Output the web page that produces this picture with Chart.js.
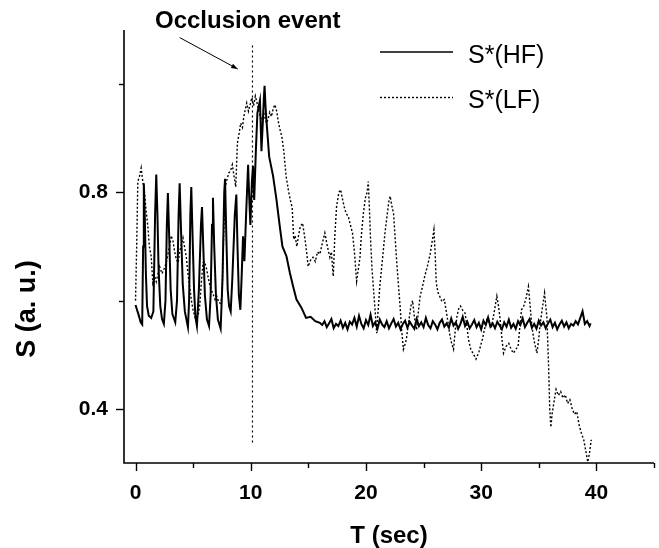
<!DOCTYPE html>
<html>
<head>
<meta charset="utf-8">
<script src="https://cdn.jsdelivr.net/npm/chart.js@4"></script>
<style>
  html, body { margin: 0; padding: 0; background: #fff; }
  #wrap { width: 659px; height: 548px; }
</style>
</head>
<body>
<div id="wrap"><canvas id="chart" width="659" height="548"></canvas></div>
<script>
/* ---- data ---- */
const hfT = [
  0.00, 0.10, 0.25, 0.45, 0.58, 0.66, 0.72, 0.80, 0.90, 1.00, 1.15, 1.36, 1.55, 1.70, 1.80, 1.90,
  2.00, 2.15, 2.30, 2.46, 2.60, 2.72, 2.81, 2.92, 3.05, 3.20, 3.45, 3.60, 3.74, 3.83, 3.95, 4.10,
  4.28, 4.55, 4.65, 4.76, 4.84, 4.95, 5.08, 5.20, 5.33, 5.50, 5.68, 5.77, 5.88, 6.02, 6.20, 6.38,
  6.52, 6.64, 6.72, 6.83, 6.98, 7.15, 7.39, 7.55, 7.70, 7.77, 7.88, 8.00, 8.12, 8.26, 8.40, 8.62,
  8.75, 8.85, 8.97, 9.10, 9.22, 9.33, 9.45, 9.60, 9.77, 9.87, 9.97, 10.10, 10.20, 10.30, 10.45, 10.58,
  10.80, 10.93, 11.05, 11.13, 11.20, 11.28, 11.36, 11.60, 11.94, 12.23, 12.52, 12.75, 13.10, 13.40, 13.68, 13.97,
  14.40, 14.80, 15.20, 15.60, 16.00,
  16.2, 16.4, 16.6, 16.8, 17.0, 17.2, 17.4, 17.6,
  17.8, 18.0, 18.2, 18.4, 18.6, 18.8, 19.0, 19.2,
  19.4, 19.6, 19.8, 20.0, 20.2, 20.4, 20.6, 20.8,
  21.0, 21.2, 21.4, 21.6, 21.8, 22.0, 22.2, 22.4,
  22.6, 22.8, 23.0, 23.2, 23.4, 23.6, 23.8, 24.0,
  24.2, 24.4, 24.6, 24.8, 25.0, 25.2, 25.4, 25.6,
  25.8, 26.0, 26.2, 26.4, 26.6, 26.8, 27.0, 27.2,
  27.4, 27.6, 27.8, 28.0, 28.2, 28.4, 28.6, 28.8,
  29.0, 29.2, 29.4, 29.6, 29.8, 30.0, 30.2, 30.4,
  30.6, 30.8, 31.0, 31.2, 31.4, 31.6, 31.8, 32.0,
  32.2, 32.4, 32.6, 32.8, 33.0, 33.2, 33.4, 33.6,
  33.8, 34.0, 34.2, 34.4, 34.6, 34.8, 35.0, 35.2,
  35.4, 35.6, 35.8, 36.0, 36.2, 36.4, 36.6, 36.8,
  37.0, 37.2, 37.4, 37.6, 37.8, 38.0, 38.2, 38.4,
  38.6, 38.8, 39.0, 39.2, 39.4, 39.5
];
const hfS = [
  0.592, 0.585, 0.575, 0.560, 0.556, 0.700, 0.817, 0.760, 0.650, 0.590, 0.572, 0.568, 0.580, 0.760, 0.833, 0.760,
  0.660, 0.590, 0.566, 0.557, 0.600, 0.740, 0.799, 0.720, 0.620, 0.575, 0.560, 0.600, 0.760, 0.817, 0.730, 0.630,
  0.580, 0.551, 0.600, 0.760, 0.810, 0.720, 0.620, 0.570, 0.553, 0.620, 0.740, 0.773, 0.700, 0.610, 0.565, 0.553,
  0.610, 0.740, 0.790, 0.700, 0.610, 0.565, 0.548, 0.640, 0.800, 0.825, 0.720, 0.620, 0.590, 0.580, 0.640, 0.760,
  0.796, 0.700, 0.610, 0.583, 0.650, 0.719, 0.673, 0.760, 0.851, 0.790, 0.740, 0.820, 0.849, 0.786, 0.880, 0.947,
  0.970, 0.876, 0.930, 0.971, 0.997, 0.960, 0.934, 0.866, 0.830, 0.787, 0.737, 0.700, 0.682, 0.651, 0.626, 0.602,
  0.587, 0.568, 0.570, 0.562, 0.559,
  0.555, 0.562, 0.551, 0.558, 0.566, 0.549, 0.557, 0.553,
  0.563, 0.550, 0.559, 0.547, 0.561, 0.556, 0.568, 0.552,
  0.572, 0.557, 0.549, 0.564, 0.555, 0.574, 0.553, 0.560,
  0.548, 0.565, 0.556, 0.551, 0.562, 0.549, 0.558, 0.566,
  0.552, 0.559, 0.547, 0.557, 0.563, 0.550, 0.561, 0.554,
  0.548, 0.566, 0.553, 0.560, 0.551, 0.568, 0.555, 0.549,
  0.562, 0.556, 0.547, 0.559, 0.565, 0.552, 0.558, 0.550,
  0.567, 0.554, 0.560, 0.548, 0.557, 0.570, 0.553, 0.561,
  0.549, 0.556, 0.564, 0.551, 0.559, 0.547, 0.563, 0.555,
  0.569, 0.552, 0.558, 0.549, 0.561, 0.554, 0.547, 0.560,
  0.552, 0.565, 0.550, 0.557, 0.548, 0.562, 0.555, 0.567,
  0.551, 0.559, 0.566, 0.550, 0.557, 0.548, 0.563, 0.554,
  0.560, 0.549, 0.558, 0.565, 0.551, 0.559, 0.547, 0.556,
  0.563, 0.552, 0.560, 0.549, 0.557, 0.554, 0.562, 0.556,
  0.568, 0.580, 0.557, 0.562, 0.553, 0.558
];

const lfT = [
  0.00, 0.10, 0.20, 0.35, 0.49, 0.60, 0.78, 0.90, 1.07, 1.20, 1.36, 1.50, 1.65, 1.80, 2.00, 2.09,
  2.30, 2.50, 2.67, 2.85, 2.96, 3.10, 3.25, 3.40, 3.54, 3.70, 3.83, 4.00, 4.12, 4.25, 4.41, 4.55,
  4.70, 4.85, 4.99, 5.15, 5.28, 5.45, 5.57, 5.70, 5.86, 6.00, 6.15, 6.40, 6.55, 6.70, 6.90, 7.05,
  7.20, 7.35, 7.50, 7.65, 7.80, 7.95, 8.10, 8.25, 8.40, 8.55, 8.70, 8.84, 9.00, 9.13, 9.28, 9.40,
  9.55, 9.65, 9.80, 9.95, 10.10, 10.25, 10.40, 10.55, 10.70, 10.85, 11.00, 11.15, 11.36, 11.50, 11.65, 11.80,
  11.95, 12.10, 12.25, 12.40, 12.55, 12.70, 12.87, 13.07, 13.30, 13.45, 13.60, 13.73, 13.85, 14.00, 14.15, 14.30,
  14.50, 14.70, 14.85, 14.98, 15.20, 15.40, 15.60, 15.80, 16.00, 16.20, 16.43, 16.65, 16.87, 17.00, 17.16, 17.30,
  17.45, 17.65, 17.80, 17.97, 18.15, 18.30, 18.46, 18.65, 18.83, 19.00, 19.19, 19.35, 19.48, 19.60, 19.77, 19.95,
  20.10, 20.20, 20.30, 20.40, 20.52, 20.64, 20.80, 20.93, 21.05, 21.20, 21.45, 21.65, 21.85, 22.00, 22.10, 22.25,
  22.40, 22.55, 22.70, 22.85, 22.96, 23.10, 23.25, 23.40, 23.50, 23.70, 23.90, 24.05, 24.20, 24.40, 24.55, 24.70,
  24.90, 25.10, 25.35, 25.57, 25.75, 25.90, 26.00, 26.10, 26.25, 26.40, 26.60, 26.80, 27.05, 27.30, 27.45, 27.60,
  27.75, 27.90, 28.05, 28.20, 28.40, 28.60, 28.75, 28.90, 29.10, 29.35, 29.55, 29.80, 30.10, 30.30, 30.50, 30.70,
  30.90, 31.10, 31.36, 31.50, 31.65, 31.80, 31.94, 32.15, 32.40, 32.60, 32.80, 33.00, 33.20, 33.35, 33.50, 33.70,
  33.90, 34.10, 34.25, 34.40, 34.60, 34.84, 35.00, 35.10, 35.30, 35.50, 35.70, 35.85, 35.95, 36.05, 36.15, 36.30,
  36.50, 36.70, 36.90, 37.10, 37.30, 37.50, 37.70, 37.90, 38.10, 38.30, 38.50, 38.70, 38.90, 39.10, 39.25, 39.40,
  39.55
];
const lfS = [
  0.600, 0.700, 0.820, 0.830, 0.845, 0.825, 0.800, 0.770, 0.737, 0.700, 0.682, 0.633, 0.645, 0.635, 0.655, 0.663,
  0.650, 0.660, 0.670, 0.690, 0.700, 0.720, 0.710, 0.690, 0.676, 0.670, 0.690, 0.705, 0.716, 0.700, 0.680, 0.650,
  0.626, 0.600, 0.583, 0.570, 0.562, 0.575, 0.590, 0.630, 0.670, 0.672, 0.660, 0.633, 0.620, 0.614, 0.602, 0.608,
  0.598, 0.595, 0.606, 0.720, 0.811, 0.825, 0.836, 0.840, 0.851, 0.830, 0.810, 0.891, 0.910, 0.928, 0.920, 0.940,
  0.955, 0.965, 0.950, 0.962, 0.975, 0.960, 0.978, 0.965, 0.950, 0.940, 0.930, 0.945, 0.928, 0.935, 0.948, 0.940,
  0.955, 0.962, 0.950, 0.930, 0.915, 0.903, 0.876, 0.830, 0.800, 0.785, 0.771, 0.713, 0.720, 0.700, 0.720, 0.737,
  0.743, 0.715, 0.690, 0.663, 0.675, 0.680, 0.672, 0.690, 0.686, 0.705, 0.725, 0.700, 0.680, 0.690, 0.645, 0.720,
  0.774, 0.800, 0.805, 0.787, 0.770, 0.760, 0.756, 0.740, 0.725, 0.690, 0.636, 0.660, 0.680, 0.720, 0.760, 0.790,
  0.800, 0.820, 0.770, 0.713, 0.660, 0.626, 0.580, 0.540, 0.580, 0.626, 0.680, 0.725, 0.760, 0.785, 0.793, 0.775,
  0.760, 0.710, 0.663, 0.620, 0.590, 0.545, 0.510, 0.520, 0.528, 0.560, 0.590, 0.600, 0.570, 0.546, 0.580, 0.608,
  0.625, 0.645, 0.665, 0.686, 0.710, 0.731, 0.690, 0.633, 0.615, 0.608, 0.598, 0.602, 0.570, 0.534, 0.520, 0.510,
  0.545, 0.571, 0.585, 0.590, 0.582, 0.577, 0.555, 0.528, 0.510, 0.500, 0.492, 0.505, 0.528, 0.548, 0.565, 0.560,
  0.553, 0.575, 0.608, 0.590, 0.565, 0.530, 0.503, 0.515, 0.521, 0.510, 0.503, 0.510, 0.515, 0.550, 0.583, 0.590,
  0.605, 0.626, 0.590, 0.553, 0.525, 0.503, 0.530, 0.553, 0.585, 0.614, 0.570, 0.480, 0.400, 0.366, 0.390, 0.410,
  0.436, 0.425, 0.432, 0.420, 0.426, 0.410, 0.417, 0.400, 0.390, 0.395, 0.370, 0.355, 0.343, 0.320, 0.302, 0.318,
  0.343
];

// occlusion marker (dotted vertical line)
const eventT = [10.15, 10.15];
const eventS = [0.338, 1.076];

const xTicks = [0, 5, 10, 15, 20, 25, 30, 35, 40, 45];
const xLabeled = [0, 10, 20, 30, 40];
const yTicks = [0.4, 0.6, 0.8, 1.0];
const yLabeled = [0.4, 0.8];

const FONT = '"Liberation Sans", Arial, Helvetica, sans-serif';

const toPoints = (xs, ys) => xs.map((t, i) => ({ x: t, y: ys[i] }));

/* ---- axes, ticks, titles, legend, annotation ---- */
const decorPlugin = {
  id: 'decor',
  afterDraw(chart) {
    const { ctx, chartArea: a } = chart;
    const x = chart.scales.x, y = chart.scales.y;
    ctx.save();
    ctx.strokeStyle = '#000';
    ctx.fillStyle = '#000';

    // axis lines
    ctx.lineWidth = 1.6;
    ctx.beginPath();
    ctx.moveTo(a.left, a.top);
    ctx.lineTo(a.left, a.bottom);
    ctx.lineTo(a.right, a.bottom);
    ctx.stroke();

    // tick marks
    ctx.lineWidth = 1.4;
    xTicks.forEach(v => {
      const px = Math.round(x.getPixelForValue(v)) + 0.5;
      const len = xLabeled.includes(v) ? 8 : 5;
      ctx.beginPath();
      ctx.moveTo(px, a.bottom);
      ctx.lineTo(px, a.bottom + len);
      ctx.stroke();
    });
    yTicks.forEach(v => {
      const py = Math.round(y.getPixelForValue(v)) + 0.5;
      const len = yLabeled.includes(v) ? 8 : 5;
      ctx.beginPath();
      ctx.moveTo(a.left, py);
      ctx.lineTo(a.left - len, py);
      ctx.stroke();
    });

    // axis titles
    ctx.font = 'bold 24px ' + FONT;
    ctx.textAlign = 'center';
    ctx.textBaseline = 'alphabetic';
    ctx.fillText('T (sec)', (a.left + a.right) / 2, 543);

    ctx.save();
    ctx.translate(35, 309);
    ctx.rotate(-Math.PI / 2);
    ctx.font = 'bold 27px ' + FONT;
    ctx.fillText('S (a. u.)', 0, 0);
    ctx.restore();

    // annotation text + arrow
    ctx.font = 'bold 24px ' + FONT;
    ctx.textAlign = 'left';
    ctx.fillText('Occlusion event', 155, 28);

    const x1 = x.getPixelForValue(3.83), y1 = y.getPixelForValue(1.086);
    const x2 = x.getPixelForValue(8.87), y2 = y.getPixelForValue(1.028);
    ctx.lineWidth = 1;
    ctx.beginPath();
    ctx.moveTo(x1, y1);
    ctx.lineTo(x2, y2);
    ctx.stroke();
    const ang = Math.atan2(y2 - y1, x2 - x1);
    ctx.beginPath();
    ctx.moveTo(x2, y2);
    ctx.lineTo(x2 - 7 * Math.cos(ang - 0.35), y2 - 7 * Math.sin(ang - 0.35));
    ctx.lineTo(x2 - 7 * Math.cos(ang + 0.35), y2 - 7 * Math.sin(ang + 0.35));
    ctx.closePath();
    ctx.fill();

    // legend
    ctx.lineWidth = 1.6;
    ctx.beginPath();
    ctx.moveTo(380, 52);
    ctx.lineTo(453, 52);
    ctx.stroke();
    ctx.lineWidth = 1.4;
    ctx.setLineDash([2, 2]);
    ctx.beginPath();
    ctx.moveTo(380, 97.5);
    ctx.lineTo(453, 97.5);
    ctx.stroke();
    ctx.setLineDash([]);
    ctx.font = '25px ' + FONT;
    ctx.fillText('S*(HF)', 468, 63);
    ctx.fillText('S*(LF)', 468, 108);

    ctx.restore();
  }
};

const ctx = document.getElementById('chart').getContext('2d');
new Chart(ctx, {
  type: 'line',
  data: {
    datasets: [
      {
        label: 'S*(HF)',
        data: toPoints(hfT, hfS),
        borderColor: '#000',
        borderWidth: 2,
        pointRadius: 0,
        tension: 0,
      },
      {
        label: 'S*(LF)',
        data: toPoints(lfT, lfS),
        borderColor: '#000',
        borderWidth: 1.4,
        borderDash: [2, 2],
        pointRadius: 0,
        tension: 0,
      },
      {
        label: 'event',
        data: toPoints(eventT, eventS),
        borderColor: '#000',
        borderWidth: 1.2,
        borderDash: [2, 3],
        pointRadius: 0,
      },
    ],
  },
  options: {
    responsive: false,
    animation: false,
    events: [],
    layout: { padding: { top: 30, right: 5, left: 0, bottom: 0 } },
    plugins: { legend: { display: false }, tooltip: { enabled: false } },
    scales: {
      x: {
        type: 'linear',
        min: -1,
        max: 45,
        border: { display: false },
        grid: { display: false, drawTicks: false },
        afterBuildTicks: s => { s.ticks = xTicks.map(v => ({ value: v })); },
        afterFit: s => { s.height = 85; s.paddingLeft = 0; s.paddingRight = 0; },
        ticks: {
          autoSkip: false,
          maxRotation: 0,
          padding: 18,
          color: '#000',
          font: { family: FONT, size: 21, weight: 'bold' },
          callback: v => (xLabeled.includes(v) ? String(v) : ''),
        },
      },
      y: {
        type: 'linear',
        min: 0.3,
        max: 1.1,
        border: { display: false },
        grid: { display: false, drawTicks: false },
        afterBuildTicks: s => { s.ticks = yTicks.map(v => ({ value: v })); },
        afterFit: s => { s.width = 124; s.paddingTop = 0; s.paddingBottom = 0; },
        ticks: {
          autoSkip: false,
          padding: 16,
          color: '#000',
          font: { family: FONT, size: 21, weight: 'bold' },
          callback: v => (yLabeled.includes(v) ? v.toFixed(1) : ''),
        },
      },
    },
  },
  plugins: [decorPlugin],
});
</script>
</body>
</html>
